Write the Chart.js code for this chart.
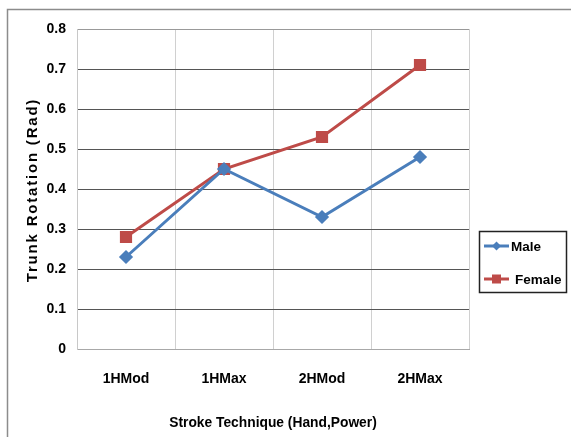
<!DOCTYPE html>
<html>
<head>
<meta charset="UTF-8">
<title>Trunk Rotation</title>
<script src="https://cdn.jsdelivr.net/npm/chart.js"></script>
<style>
  html, body { margin: 0; padding: 0; background: #fff; }
  #wrap { width: 571px; height: 437px; position: relative; }
</style>
</head>
<body>
<div id="wrap"><canvas id="chart"></canvas></div>
<script>
const categories = ['1HMod', '1HMax', '2HMod', '2HMax'];
const maleValues = [0.23, 0.45, 0.33, 0.48];
const femaleValues = [0.28, 0.45, 0.53, 0.71];
const yMin = 0, yMax = 0.8, yStep = 0.1;

// no narrow face installed, so plain bold sized to the reference widths
const face = "'Liberation Sans', Arial, sans-serif";

// outer frame, y title and boxed legend
const extras = {
  id: 'extras',
  beforeDraw(chart) {
    const ctx = chart.ctx;
    ctx.save();
    ctx.strokeStyle = '#8c8c8c';
    ctx.lineWidth = 1.5;
    ctx.beginPath();
    ctx.moveTo(7.5, 437);
    ctx.lineTo(7.5, 9.5);
    ctx.lineTo(571, 9.5);
    ctx.stroke();
    ctx.restore();
  },
  afterDraw(chart) {
    const ctx = chart.ctx;
    ctx.save();
    // y axis title
    ctx.translate(33, 190);
    ctx.rotate(-Math.PI / 2);
    ctx.font = 'bold 15px ' + face;
    ctx.letterSpacing = '1.8px';
    ctx.fillStyle = '#000';
    ctx.textAlign = 'center';
    ctx.textBaseline = 'middle';
    ctx.fillText('Trunk Rotation (Rad)', 0, 0);
    ctx.restore();

    // legend
    ctx.save();
    ctx.strokeStyle = '#222';
    ctx.lineWidth = 1.5;
    ctx.strokeRect(479.5, 231.5, 87, 61);
    const rows = [246, 279];
    const textX = [511, 515];
    chart.data.datasets.forEach((ds, i) => {
      const y = rows[i];
      ctx.strokeStyle = ds.borderColor;
      ctx.lineWidth = 3;
      ctx.beginPath();
      ctx.moveTo(484, y);
      ctx.lineTo(509, y);
      ctx.stroke();
      ctx.fillStyle = ds.backgroundColor;
      ctx.beginPath();
      if (ds.pointStyle === 'rectRot') {
        ctx.moveTo(496.5, y - 4.5);
        ctx.lineTo(501, y);
        ctx.lineTo(496.5, y + 4.5);
        ctx.lineTo(492, y);
        ctx.closePath();
      } else {
        ctx.rect(492, y - 4.5, 9, 9);
      }
      ctx.fill();
      ctx.fillStyle = '#000';
      ctx.font = 'bold 13.5px ' + face;
      ctx.textAlign = 'left';
      ctx.textBaseline = 'middle';
      ctx.fillText(ds.label, textX[i], y + 1);
    });
    ctx.restore();
  }
};

new Chart(document.getElementById('chart'), {
  type: 'line',
  data: {
    labels: categories,
    datasets: [
      {
        label: 'Male',
        data: maleValues,
        borderColor: '#4A7EBB',
        backgroundColor: '#4A7EBB',
        borderWidth: 3,
        pointStyle: 'rectRot',
        pointRadius: 5,
        tension: 0
      },
      {
        label: 'Female',
        data: femaleValues,
        borderColor: '#BE4B48',
        backgroundColor: '#BE4B48',
        borderWidth: 3,
        pointStyle: 'rect',
        pointRadius: 6.5,
        tension: 0
      }
    ]
  },
  options: {
    responsive: true,
    maintainAspectRatio: false,
    animation: false,
    layout: { padding: { top: 29, right: 102, left: 0, bottom: 0 } },
    plugins: {
      legend: { display: false },
      tooltip: { enabled: false }
    },
    scales: {
      x: {
        offset: true,
        afterFit: (s) => { s.height = 88; },
        grid: { offset: true, color: '#d0d0d0', drawTicks: false },
        border: { color: '#a8a8a8' },
        ticks: { color: '#000', font: { family: face, size: 14, weight: 'bold' }, padding: 22 },
        title: {
          display: true,
          text: 'Stroke Technique (Hand,Power)',
          color: '#000',
          font: { family: face, size: 13.8, weight: 'bold' },
          padding: { top: 0, bottom: 6 }
        }
      },
      y: {
        min: yMin,
        max: yMax,
        afterFit: (s) => { s.width = 77; },
        grid: {
          drawTicks: false,
          color: (c) => {
            const v = c.tick ? Math.round(c.tick.value * 10) : -1;
            if (v === 0) return '#a8a8a8';
            if (v === 8) return '#999';
            return '#555';
          }
        },
        border: { color: '#c8c8c8' },
        ticks: {
          stepSize: yStep,
          color: '#000',
          padding: 11,
          font: { family: face, size: 14, weight: 'bold' },
          callback: (v) => (v === 0 ? '0' : v.toFixed(1))
        }
      }
    }
  },
  plugins: [extras]
});
</script>
</body>
</html>
